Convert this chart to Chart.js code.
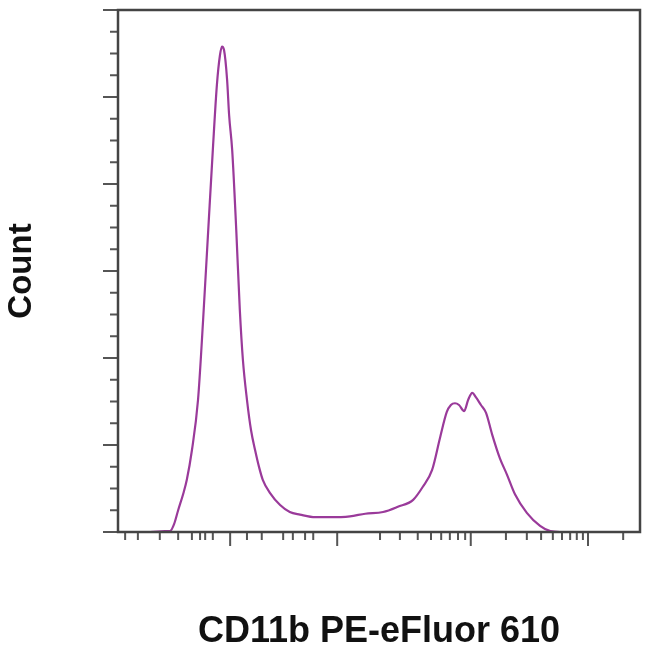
<!DOCTYPE html>
<html>
<head>
<meta charset="utf-8">
<script src="https://cdn.jsdelivr.net/npm/chart.js@4.4.1/dist/chart.umd.min.js"></script>
<style>
  html, body { margin: 0; padding: 0; background: #fff; }
  #wrap { width: 650px; height: 654px; }
</style>
</head>
<body>
<div id="wrap"><canvas id="histo"></canvas></div>
<script>
// canal CD11b (0-1024) y conteo
const canal = [0, 63, 92, 102, 110, 118, 128, 135, 145, 157, 167, 177, 186, 194, 200, 204, 208, 214, 218,
    224, 232, 239, 245, 253, 261, 269, 277, 284, 298, 318, 337, 357, 387, 416, 455, 485, 520, 549, 579,
    598, 616, 632, 645, 653, 661, 669, 679, 687, 695, 702, 712, 722, 734, 749, 763, 779, 802, 828, 848, 867, 1024];
const conteo = [0, 0, 1, 1, 9, 25, 44, 60, 94, 152, 244, 347, 439, 514, 548, 558, 554, 520, 479,
    439, 347, 255, 198, 152, 117, 94, 74, 60, 45, 31, 23, 20, 17, 17, 18, 21, 23, 29, 37,
    52, 71, 109, 138, 146, 148, 146, 139, 152, 160, 155, 146, 137, 112, 85, 66, 43, 22, 7, 1, 0, 0];

// marcas de los ejes
const xMayores = [220, 430, 692, 922];
const xMenores = [14, 39, 82, 118, 145, 161, 171, 186, 253, 282, 324, 343, 367, 383, 514, 553, 588, 614,
    634, 651, 667, 681, 761, 802, 830, 853, 871, 887, 900, 912, 991];
const yMayores = [0, 100, 200, 300, 400, 500, 600];
const yMenores = [25, 50, 75, 125, 150, 175, 225, 250, 275, 325, 350, 375, 425, 450, 475, 525, 550, 575];

const fuente = "'Liberation Sans', Arial, sans-serif";

// marco y marcas dibujados con las escalas del grafico
const marcoPlugin = {
    id: 'marco',
    afterDraw(chart) {
        const ctx = chart.ctx;
        const a = chart.chartArea;
        const sx = chart.scales.x;
        const sy = chart.scales.y;
        ctx.save();
        ctx.strokeStyle = '#555';
        ctx.lineWidth = 2;
        ctx.beginPath();
        xMayores.forEach(v => { const p = sx.getPixelForValue(v); ctx.moveTo(p, a.bottom); ctx.lineTo(p, a.bottom + 14); });
        xMenores.forEach(v => { const p = sx.getPixelForValue(v); ctx.moveTo(p, a.bottom); ctx.lineTo(p, a.bottom + 8); });
        yMayores.forEach(v => { const p = sy.getPixelForValue(v); ctx.moveTo(a.left, p); ctx.lineTo(a.left - 15, p); });
        yMenores.forEach(v => { const p = sy.getPixelForValue(v); ctx.moveTo(a.left, p); ctx.lineTo(a.left - 8, p); });
        ctx.stroke();
        ctx.strokeStyle = '#444';
        ctx.lineWidth = 2.5;
        ctx.strokeRect(a.left, a.top, a.right - a.left, a.bottom - a.top);
        ctx.restore();
    }
};

new Chart(document.getElementById('histo').getContext('2d'), {
    type: 'line',
    data: {
        datasets: [{
            data: canal.map((c, i) => ({ x: c, y: conteo[i] })),
            borderColor: '#9a3a9a',
            borderWidth: 2.2,
            pointRadius: 0,
            cubicInterpolationMode: 'monotone',
            fill: false
        }]
    },
    options: {
        responsive: true,
        maintainAspectRatio: false,
        animation: false,
        layout: { padding: { top: 10, right: 10, left: 0, bottom: 0 } },
        plugins: { legend: { display: false }, tooltip: { enabled: false } },
        scales: {
            x: {
                type: 'linear', min: 0, max: 1024,
                grid: { display: false },
                border: { display: false },
                ticks: { display: false },
                title: {
                    display: true, text: 'CD11b PE-eFluor 610', color: '#111',
                    font: { family: fuente, size: 36, weight: 'bold' },
                    padding: { top: 0, bottom: 0 }
                },
                afterFit: (scale) => { scale.height = 122; }
            },
            y: {
                type: 'linear', min: 0, max: 600,
                grid: { display: false },
                border: { display: false },
                ticks: { display: false },
                title: {
                    display: true, text: 'Count', color: '#111',
                    font: { family: fuente, size: 33, weight: 'bold' },
                    padding: { top: 2, bottom: 0 }
                },
                afterFit: (scale) => { scale.width = 118; }
            }
        }
    },
    plugins: [marcoPlugin]
});
</script>
</body>
</html>
